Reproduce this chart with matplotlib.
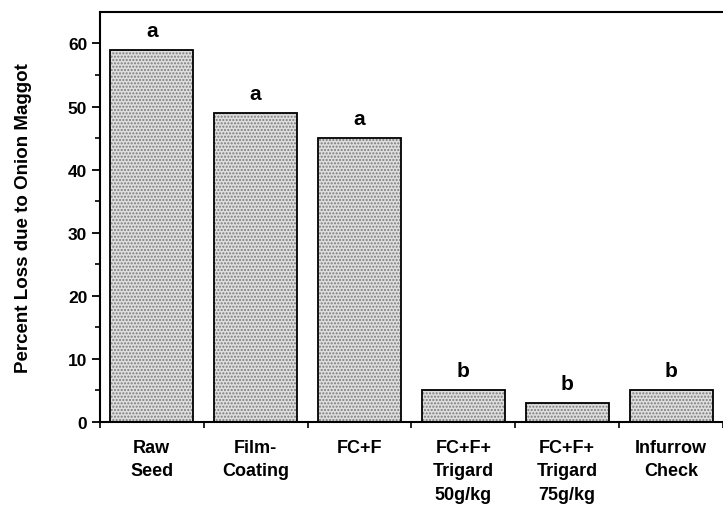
import numpy as np
import matplotlib.pyplot as plt

treatments = ['Raw\nSeed', 'Film-\nCoating', 'FC+F', 'FC+F+\nTrigard\n50g/kg',
              'FC+F+\nTrigard\n75g/kg', 'Infurrow\nCheck']
percent_loss = [59, 49, 45, 5, 3, 5]
letters = ['a', 'a', 'a', 'b', 'b', 'b']

plt.rcParams['font.family'] = ['Liberation Sans', 'DejaVu Sans']
plt.rcParams['font.weight'] = 'bold'

fig = plt.figure(figsize=(7.23, 5.10), dpi=100)
ax = fig.add_axes([0.138, 0.1706, 0.862, 0.804])

x = np.arange(len(treatments))
# stippled fill first, then the black outline on top
ax.bar(x, percent_loss, width=0.8, color='#dedede', edgecolor='#7a7a7a',
       linewidth=0, hatch='.....')
ax.bar(x, percent_loss, width=0.8, fill=False, edgecolor='black', linewidth=1.3)

for xi, v, lab in zip(x, percent_loss, letters):
    ax.text(xi, v + 1.6, lab, ha='center', va='bottom', fontsize=15, fontweight='bold')

ax.set_xlim(-0.5, len(treatments) - 0.5)
ax.set_ylim(0, 65)
ax.set_yticks(range(0, 61, 10))
ax.set_yticks(range(5, 61, 10), minor=True)
ax.tick_params(axis='y', which='major', length=6, width=1.3, labelsize=12.5, pad=3)
ax.tick_params(axis='y', which='minor', length=3.5, width=1.2)

# boundary ticks without labels, category labels at bar centres
ax.set_xticks(np.arange(-0.5, len(treatments), 1.0))
ax.set_xticklabels([])
ax.set_xticks(x, minor=True)
ax.set_xticklabels(treatments, minor=True, fontsize=13, fontweight='bold',
                   linespacing=1.5, va='top')
ax.tick_params(axis='x', which='major', length=4, width=1.2)
ax.tick_params(axis='x', which='minor', length=0, pad=12)

ax.set_ylabel('Percent Loss due to Onion Maggot', fontsize=13.5, fontweight='bold', labelpad=26)

for side in ['left', 'bottom', 'top']:
    ax.spines[side].set_linewidth(1.5)
ax.spines['right'].set_visible(False)

plt.savefig('out.png', dpi=100)
plt.close()
